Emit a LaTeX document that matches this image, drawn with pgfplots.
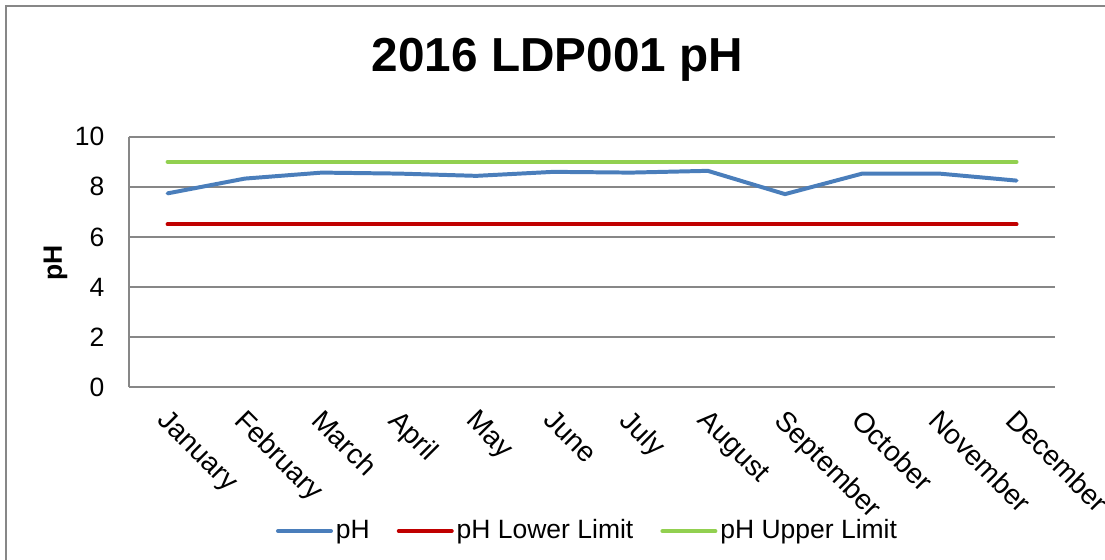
\documentclass[border=0pt]{standalone}
\usepackage{pgfplots}
\pgfplotsset{compat=1.18}
\usepackage{fontspec}
\setmainfont{Liberation Sans}
\definecolor{phblue}{HTML}{4A7EBB}
\definecolor{phred}{HTML}{C00000}
\definecolor{phgreen}{HTML}{92D050}
\definecolor{gridgray}{HTML}{878787}
\pgfplotstableread{
x ph low up
0 7.74 6.5 9
1 8.33 6.5 9
2 8.57 6.5 9
3 8.53 6.5 9
4 8.44 6.5 9
5 8.60 6.5 9
6 8.57 6.5 9
7 8.64 6.5 9
8 7.71 6.5 9
9 8.53 6.5 9
10 8.53 6.5 9
11 8.25 6.5 9
}\phdata
\begin{document}
\begin{tikzpicture}
\useasboundingbox (0,0) rectangle (417pt,211pt);
\draw[gridgray, line width=0.6pt] (2.26pt,-5pt) -- (2.26pt,208.7pt) -- (425pt,208.7pt);
\begin{axis}[
  at={(48.68pt,64.91pt)}, anchor=south west,
  scale only axis, width=349.5pt, height=94.46pt,
  xmin=-0.5, xmax=11.5, ymin=0, ymax=10,
  xtick={0,...,11},
  xticklabels={January,February,March,April,May,June,July,August,September,October,November,December},
  ytick={0,2,4,6,8,10},
  /pgf/number format/assume math mode=true,
  axis x line*=bottom, axis y line*=left,
  axis line style={gridgray, line width=0.6pt, -},
  major tick length=0pt,
  ymajorgrids, grid style={gridgray, line width=0.6pt},
  tick label style={font=\fontsize{10}{12}\selectfont},
  xticklabel style={font=\fontsize{10.6}{12.5}\selectfont, xshift=1.0pt, yshift=-7.6pt, rotate=-45, anchor=north west, inner sep=0pt},
  yticklabel style={anchor=east, inner sep=0pt, xshift=-9.06pt},
  title={2016 LDP001 pH},
  title style={at={(axis description cs:0.4627,1.2625)}, anchor=base, yshift=-6pt, font=\bfseries\fontsize{18}{21.6}\selectfont, inner sep=0pt},
  ylabel={pH},
  ylabel style={at={(axis description cs:-0.0794,0.495)}, anchor=center, font=\bfseries\fontsize{10}{12}\selectfont, inner sep=0pt},
  legend columns=3,
  legend style={at={(axis description cs:0.494,-0.575)}, anchor=center, draw=none, fill=none,
    font=\fontsize{10}{12}\selectfont, nodes={inner sep=0pt},
    /tikz/every odd column/.append style={column sep=1.1pt},
    /tikz/every even column/.append style={column sep=10.2pt}},
  legend image code/.code={\draw[#1, line cap=round] (0pt,0pt) -- (20pt,0pt);},
  every axis plot/.append style={line width=1.5pt, line cap=round, line join=round, mark=none},
]
\addplot[phblue] table[x=x, y=ph] {\phdata};
\addlegendentry{pH}
\addplot[phred] table[x=x, y=low] {\phdata};
\addlegendentry{pH Lower Limit}
\addplot[phgreen] table[x=x, y=up] {\phdata};
\addlegendentry{pH Upper Limit}
\end{axis}
\end{tikzpicture}
\end{document}
